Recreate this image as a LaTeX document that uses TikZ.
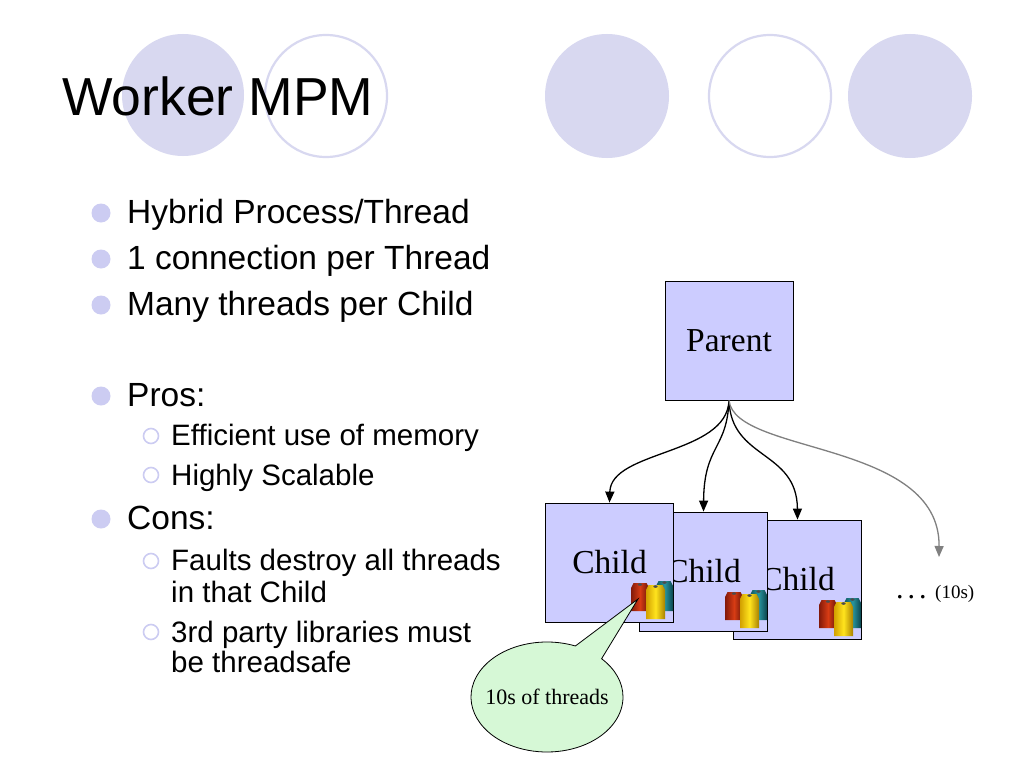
\documentclass[tikz,border=0pt]{standalone}
\usepackage{fontspec}
\setmainfont{Liberation Serif}
\setsansfont{Liberation Sans}
\usetikzlibrary{shapes.geometric,shapes.callouts,arrows.meta}
\definecolor{lav}{RGB}{216,216,240}
\definecolor{bul}{RGB}{204,204,242}
\definecolor{boxfill}{RGB}{204,204,255}
\definecolor{callfill}{RGB}{214,248,214}
\definecolor{spred}{RGB}{215,60,20}
\definecolor{spreddk}{RGB}{130,25,10}
\definecolor{spyel}{RGB}{255,228,30}
\definecolor{spyeldk}{RGB}{210,160,0}
\definecolor{sptea}{RGB}{40,150,160}
\definecolor{spteadk}{RGB}{15,85,95}
\newcommand\onespool[7]{% x1 x2 ytop ybot light dark hole
  \shade[left color=#6,right color=#6!80!black,middle color=#5]
    (#1+2.5,#3) -- (#2-2.5,#3) -- (#2,#3+5) -- (#2,#4) -- (#1,#4) -- (#1,#3+5) -- cycle;
  \fill[#7] ({(#1+#2)/2},#3+1.5) ellipse[x radius=2.2pt,y radius=1.3pt];
}
\newcommand\spoolset[2]{%
  \begin{scope}[shift={(#1,#2)}]
    \onespool{-18}{-1}{-41}{-11}{sptea}{spteadk}{black!70}
    \onespool{-43}{-25}{-39}{-11}{spred}{spreddk}{black!70}
    \onespool{-28}{-9}{-37}{-3}{spyel}{spyeldk}{black!70}
  \end{scope}}
\begin{document}
\begin{tikzpicture}[x=1pt,y=-1pt,
  ttl/.style={anchor=base west,inner sep=0pt,font=\sffamily\fontsize{53.5}{60}\selectfont},
  lvone/.style={anchor=base west,inner sep=0pt,font=\sffamily\fontsize{33.5}{38}\selectfont},
  lvtwo/.style={anchor=base west,inner sep=0pt,font=\sffamily\fontsize{29.5}{34}\selectfont},
  dotone/.style={fill=bul,draw=none,circle,minimum size=19pt,inner sep=0pt},
  dottwo/.style={draw=bul,line width=1.6pt,fill=white,circle,minimum size=15pt,inner sep=0pt},
  procbox/.style={draw=black,line width=0.8pt,fill=boxfill,minimum width=128pt,minimum height=119pt,inner sep=0pt,font=\fontsize{33.5}{38}\selectfont},
  conn/.style={-{Triangle[length=11pt,width=9pt]},line width=1.3pt,black},
  gconn/.style={-{Triangle[length=11pt,width=9pt]},line width=1.3pt,black!50}]
\useasboundingbox (0,0) rectangle (1024,768);
\fill[white] (0,0) rectangle (1024,768);
% title circles
\fill[lav] (183,95) circle[radius=61pt];
\draw[lav,line width=2.2pt] (326,96) circle[radius=61pt];
\fill[lav] (607,96) circle[radius=62pt];
\draw[lav,line width=2.2pt] (770,96) circle[radius=61pt];
\fill[lav] (910,96) circle[radius=62pt];
\node[ttl] (title) at (62,115) {Worker MPM};
% bullets
\node[dotone] (b1) at (101,213) {};
\node[lvone] (t1) at (127,223) {Hybrid Process/Thread};
\node[dotone] (b2) at (101,259) {};
\node[lvone] (t2) at (127,269) {1 connection per Thread};
\node[dotone] (b3) at (101,305) {};
\node[lvone] (t3) at (127,315) {Many threads per Child};
\node[dotone] (b4) at (101,396) {};
\node[lvone] (t4) at (127,406) {Pros:};
\node[dottwo] (s1) at (151,436) {};
\node[lvtwo] (u1) at (171,445) {Efficient use of memory};
\node[dottwo] (s2) at (151,475) {};
\node[lvtwo] (u2) at (171,485) {Highly Scalable};
\node[dotone] (b5) at (101,519) {};
\node[lvone] (t5) at (127,529) {Cons:};
\node[dottwo] (s3) at (151,561) {};
\node[lvtwo] (u3) at (171,570) {Faults destroy all threads};
\node[lvtwo] (u4) at (171,602) {in that Child};
\node[dottwo] (s4) at (151,632) {};
\node[lvtwo] (u5) at (171,642) {3rd party libraries must};
\node[lvtwo] (u6) at (171,672) {be threadsafe};
% diagram
\node[procbox] (parent) at (729,340.5) {Parent};
\node[procbox] (c3) at (797.5,579.5) {Child};
\spoolset{862}{639}
\node[procbox] (c2) at (703.5,571.5) {Child};
\spoolset{768}{631}
\node[procbox] (c1) at (609.5,562.5) {Child};
\spoolset{674}{622}
\coordinate (more) at (939,557);
\draw[conn] (parent.south) .. controls (727,455) and (611,450) .. (c1.north);
\draw[conn] (parent.south) .. controls (727,450) and (704,445) .. (c2.north);
\draw[conn] (parent.south) .. controls (731,460) and (797,450) .. (c3.north);
\draw[gconn] (parent.south) .. controls (735,455) and (940,440) .. (more);
\node[anchor=base west,inner sep=0pt,font=\fontsize{30}{32}\selectfont] (dots) at (896,598) {.\hspace{4pt}.\hspace{4pt}.};
\node[anchor=base west,inner sep=0pt,font=\fontsize{19}{22}\selectfont] (tens) at (935,598) {(10s)};
% callout
\coordinate (tip) at (638,599);
\node[ellipse callout,draw=black,line width=0.8pt,fill=callfill,minimum width=152pt,minimum height=110pt,inner sep=0pt,
  callout absolute pointer={(tip)},callout pointer arc=24,font=\fontsize{22}{26}\selectfont] (call) at (547,697) {\makebox[0pt]{10s of threads}};
\end{tikzpicture}
\end{document}
